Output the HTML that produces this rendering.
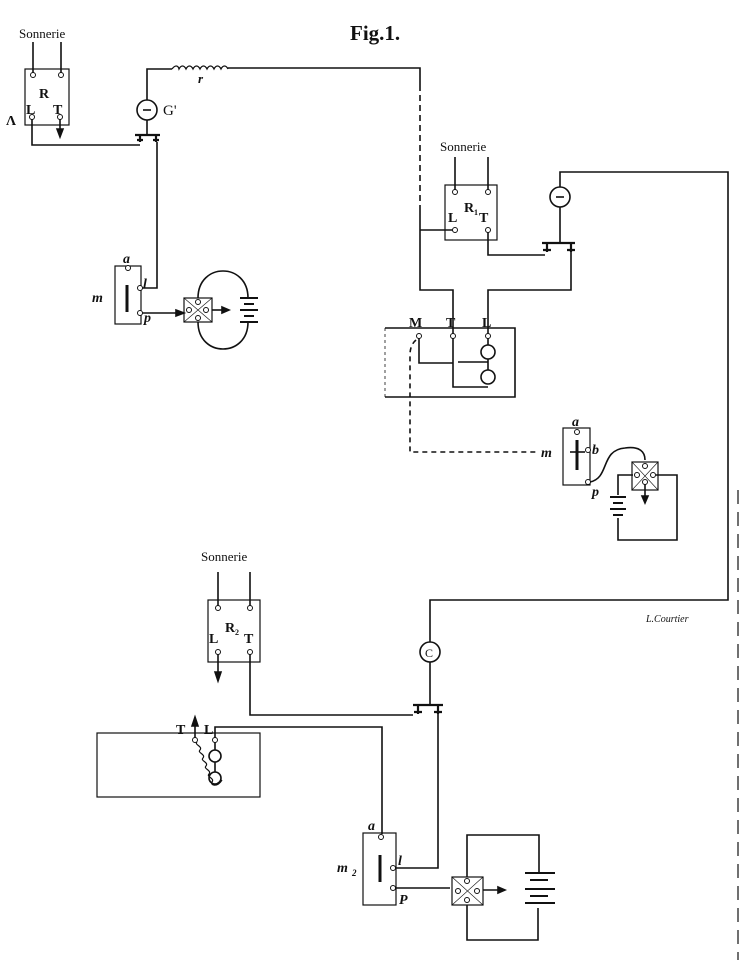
<!DOCTYPE html>
<html><head><meta charset="utf-8"><style>
html,body{margin:0;padding:0;background:#fff}
svg{display:block}
text{font-family:"Liberation Serif",serif;fill:#111}
</style></head><body>
<svg width="742" height="961" viewBox="0 0 742 961" xmlns="http://www.w3.org/2000/svg">
<g fill="none" stroke="#111" stroke-width="1.6">
<rect x="25" y="69" width="44" height="56" stroke-width="1.2"/>
<path d="M33 42V73M61 42V73"/>
<path d="M32 119V145H140M60 119V135"/>
<path d="M57 129L60 137L63 129Z" fill="#111"/>
<path d="M135 135H160M140 135V142M137 140H143M156 135V142M153 140H159" stroke-width="2.2"/>
<path d="M147 120V135M147 100V69H172M228 68H420V85"/>
<path d="M172 69c3-4 6-4 7 0c2-4 5-4 7 0c2-4 5-4 7 0c2-4 5-4 7 0c2-4 5-4 7 0c2-4 5-4 7 0c2-4 5-4 7 0c2-4 5-4 7 0" stroke-width="1.3"/>
<circle cx="147" cy="110" r="10"/>
<path d="M143 110H151"/>
<path d="M420 85V210" stroke-dasharray="6,4"/>
<path d="M420 210V290H453V334M420 230H453"/>
<path d="M157 142V288H141"/>
<rect x="115" y="266" width="26" height="58" stroke-width="1.2"/>
<path d="M127 285V312" stroke-width="3"/>
<path d="M141 313H182"/>
<path d="M176 310L184 313L176 316Z" fill="#111"/>
<rect x="184" y="298" width="28" height="24" stroke-width="1.2"/>
<path d="M184 298L212 322M212 298L184 322" stroke-width="0.6"/>
<path d="M198 298C198 262 248 262 248 298M198 322C198 358 248 358 248 322"/>
<path d="M212 310H226"/>
<path d="M222 307L229 310L222 313Z" fill="#111"/>
<path d="M240 298H258M244 304H254M240 310H258M244 316H254M240 322H258" stroke-width="2"/>
<rect x="445" y="185" width="52" height="55" stroke-width="1.2"/>
<path d="M455 157V190M488 157V190"/>
<path d="M488 232V255H545"/>
<path d="M542 243H575M547 243V252M543 250H551M571 243V252M567 250H575" stroke-width="2.2"/>
<circle cx="560" cy="197" r="10"/>
<path d="M556 197H564"/>
<path d="M560 207V243M560 187V172H728V600H430V642M430 662V705"/>
<path d="M571 252V290H488V334"/>
<path d="M385 328H515V397H385"/><path d="M385 328V397" stroke-width="0.8" stroke-dasharray="3,3"/>
<path d="M419 338V363H453M453 338V387H488M458 362H488M488 338V345M488 359V370"/>
<circle cx="488" cy="352" r="7"/><circle cx="488" cy="377" r="7"/>
<path d="M416 340Q410 345 410 355V452H538" stroke-dasharray="5,4"/>
<rect x="563" y="428" width="27" height="57" stroke-width="1.2"/>
<path d="M577 440V470" stroke-width="3"/><path d="M570 452H585"/>
<path d="M590 482C610 478 600 450 625 448C640 446 645 452 645 460"/>
<rect x="632" y="462" width="26" height="28" stroke-width="1.2"/>
<path d="M632 462L658 490M658 462L632 490" stroke-width="0.6"/>
<path d="M633 475H618V495M618 518V540H677V475H656M645 482V500"/>
<path d="M642 496L645 503L648 496Z" fill="#111"/>
<path d="M610 497H626M613 503H623M610 509H626M613 515H623" stroke-width="2"/>
<rect x="208" y="600" width="52" height="62" stroke-width="1.2"/>
<path d="M218 572V606M250 572V606M218 654V676M250 654V715H413"/>
<path d="M215 672L218 681L221 672Z" fill="#111"/>
<path d="M413 705H443M418 705V714M414 712H422M438 705V714M434 712H442" stroke-width="2.2"/>
<circle cx="430" cy="652" r="10"/>
<path d="M438 714V868H396"/>
<rect x="97" y="733" width="163" height="64" stroke-width="1.2"/>
<path d="M195 740V720"/><path d="M192 726L195 717L198 726Z" fill="#111"/>
<path d="M215 738V727H382V834M215 742V750M215 762V772"/>
<circle cx="215" cy="756" r="6"/><circle cx="215" cy="778" r="6"/>
<path d="M197 742c-3 3 6 4 3 8c-3 3 6 4 3 8c-3 3 6 4 3 8c-3 3 6 4 3 8c-3 3 6 4 3 8c-2 3 5 6 10 -2" stroke-width="1.2"/>
<rect x="363" y="833" width="33" height="72" stroke-width="1.2"/>
<path d="M380 855V882" stroke-width="3"/>
<path d="M396 888H450"/>
<rect x="452" y="877" width="31" height="28" stroke-width="1.2"/>
<path d="M452 877L483 905M483 877L452 905" stroke-width="0.6"/>
<path d="M483 890H500"/><path d="M498 887L505 890L498 893Z" fill="#111"/>
<path d="M467 877V835H539V873M467 905V940H538V908"/>
<path d="M525 873H555M530 880H548M525 889H555M530 896H548M525 903H555" stroke-width="2"/>
<path d="M738 490V960" stroke-width="1.2" stroke-dasharray="14,8"/>
</g>
<g fill="#fff" stroke="#111" stroke-width="1">
<circle cx="33" cy="75" r="2.5"/><circle cx="61" cy="75" r="2.5"/><circle cx="32" cy="117" r="2.5"/><circle cx="60" cy="117" r="2.5"/>
<circle cx="128" cy="268" r="2.5"/><circle cx="140" cy="288" r="2.5"/><circle cx="140" cy="313" r="2.5"/>
<circle cx="189" cy="310" r="2.5"/><circle cx="206" cy="310" r="2.5"/><circle cx="198" cy="302" r="2.5"/><circle cx="198" cy="318" r="2.5"/>
<circle cx="455" cy="192" r="2.5"/><circle cx="488" cy="192" r="2.5"/><circle cx="455" cy="230" r="2.5"/><circle cx="488" cy="230" r="2.5"/>
<circle cx="419" cy="336" r="2.5"/><circle cx="453" cy="336" r="2.5"/><circle cx="488" cy="336" r="2.5"/>
<circle cx="577" cy="432" r="2.5"/><circle cx="588" cy="450" r="2.5"/><circle cx="588" cy="482" r="2.5"/>
<circle cx="645" cy="466" r="2.5"/><circle cx="637" cy="475" r="2.5"/><circle cx="653" cy="475" r="2.5"/><circle cx="645" cy="482" r="2.5"/>
<circle cx="218" cy="608" r="2.5"/><circle cx="250" cy="608" r="2.5"/><circle cx="218" cy="652" r="2.5"/><circle cx="250" cy="652" r="2.5"/>
<circle cx="195" cy="740" r="2.5"/><circle cx="215" cy="740" r="2.5"/>
<circle cx="381" cy="837" r="2.5"/><circle cx="393" cy="868" r="2.5"/><circle cx="393" cy="888" r="2.5"/>
<circle cx="467" cy="881" r="2.5"/><circle cx="458" cy="891" r="2.5"/><circle cx="477" cy="891" r="2.5"/><circle cx="467" cy="900" r="2.5"/>
</g>
<g font-size="13">
<text x="350" y="40" font-size="21" font-weight="bold">Fig.1.</text>
<text x="19" y="38">Sonnerie</text>
<text x="440" y="151">Sonnerie</text>
<text x="201" y="561">Sonnerie</text>
<g font-weight="bold" font-size="14">
<text x="39" y="98">R</text><text x="26" y="114">L</text><text x="53" y="114">T</text><text x="6" y="125">Λ</text>
<text x="448" y="222">L</text><text x="464" y="212">R</text><text x="479" y="222">T</text>
<text x="409" y="327">M</text><text x="446" y="327">T</text><text x="482" y="327">L</text>
<text x="209" y="643">L</text><text x="225" y="632">R</text><text x="244" y="643">T</text>
<text x="176" y="734">T</text><text x="204" y="734">L</text>
</g>
<text x="474" y="215" font-size="8" font-weight="bold">1</text>
<text x="235" y="635" font-size="8" font-weight="bold">2</text>
<text x="163" y="115" font-size="15">G'</text>
<text x="198" y="83" font-style="italic" font-weight="bold">r</text>
<g font-style="italic" font-weight="bold" font-size="14">
<text x="123" y="263">a</text><text x="143" y="288">l</text><text x="144" y="322">p</text><text x="92" y="302">m</text>
<text x="572" y="426">a</text><text x="592" y="454">b</text><text x="592" y="496">p</text><text x="541" y="457">m</text>
<text x="368" y="830">a</text><text x="398" y="865">l</text><text x="399" y="904">P</text><text x="337" y="872">m</text>
</g>
<text x="352" y="876" font-size="9" font-style="italic" font-weight="bold">2</text>
<text x="425" y="657" font-size="12">C</text>
<text x="646" y="622" font-size="10" font-style="italic">L.Courtier</text>
</g>
</svg>
</body></html>
